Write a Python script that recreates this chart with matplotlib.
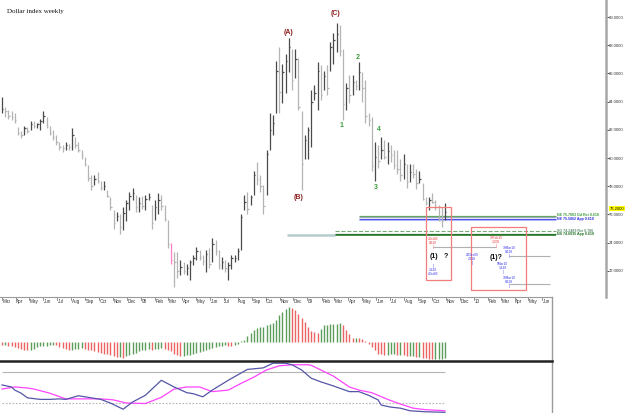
import matplotlib
matplotlib.use("Agg")
import matplotlib.pyplot as plt
import matplotlib.dates as mdates
import matplotlib.transforms as mtransforms
from matplotlib.patches import Rectangle
import pandas as pd

plt.rcParams['font.family'] = ['Liberation Sans', 'DejaVu Sans']

# ---------------- data ----------------
title = "Dollar index weekly"
first_week = "2007-03-02"

highs = [84.3,83.6,83.4,83.3,83.2,82.2,81.9,82.3,82.2,82.6,
         82.6,82.5,82.8,83.3,82.9,82.3,82.0,81.6,81.1,80.9,
         81.1,81.0,82.1,81.5,81.1,80.6,80.1,79.5,78.8,78.8,
         79.0,78.4,78.4,77.7,77.2,76.3,76.2,76.0,76.5,77.0,
         77.6,77.9,77.4,77.2,77.3,77.4,77.5,76.7,77.0,77.5,
         77.4,76.7,75.6,74.0,73.3,73.3,72.8,72.6,72.5,72.8,
         73.1,73.7,73.5,73.1,73.5,73.6,74.3,74.2,73.5,73.0,
         72.8,72.6,73.1,73.1,73.6,76.0,77.4,77.6,77.4,79.1,
         79.7,78.8,78.1,80.6,83.2,83.05,86.9,87.9,86.7,87.4,
         88.5,87.7,87.7,87.1,83.3,81.6,82.2,84.8,85.2,86.8,
         86.6,86.2,86.6,88.2,88.9,89.6,89.4,87.7,85.3,85.9,
         85.9,85.5,86.8,86.1,85.5,83.2,82.9,81.1,80.9,81.5,
         81.3,81.1,80.9,80.6,80.6,79.9,80.3,79.6,79.6,79.6,
         79.2,79.1,78.2,77.2,77.2,77.5,77.0,76.7,76.5,76.8]

lows = [83.2,82.9,82.8,82.7,82.5,81.6,81.4,81.6,81.8,82.0,
        82.1,82.1,82.0,82.5,82.1,81.6,81.3,80.9,80.6,80.4,
        80.6,80.6,80.6,80.7,80.4,79.9,79.4,78.4,77.7,78.1,
        78.2,77.7,77.7,77.2,76.3,75.0,75.5,74.6,74.9,75.5,
        76.3,77.0,76.2,76.2,76.4,76.3,77.0,75.0,75.6,76.0,
        76.3,75.5,73.6,72.5,70.85,71.5,71.7,71.8,71.7,71.35,
        72.4,72.8,72.8,72.4,71.9,72.2,72.6,73.1,72.1,72.1,
        71.9,71.35,72.1,72.6,72.8,73.5,76.3,76.0,76.7,77.4,
        78.1,77.6,76.0,77.4,80.6,81.6,83.2,83.2,83.9,84.6,
        86.1,84.8,85.7,83.4,77.7,79.9,79.9,80.8,84.1,83.4,
        84.1,84.8,84.5,86.2,86.7,87.5,87.2,82.7,83.4,83.9,
        84.5,84.8,84.8,84.0,82.5,82.3,79.1,78.4,79.3,79.9,
        79.9,79.6,79.7,79.2,78.9,78.4,78.5,77.9,78.3,78.6,
        77.8,78.2,77.0,76.7,76.3,76.8,76.3,75.5,75.1,75.6]

closes = [83.5,83.3,83.0,82.9,82.7,81.8,81.6,82.1,81.9,82.4,
          82.3,82.4,82.6,83.0,82.3,81.8,81.5,81.1,80.8,80.7,
          80.9,80.8,81.6,80.9,80.6,80.2,79.6,78.6,78.0,78.5,
          78.4,77.9,78.0,77.3,76.5,75.4,75.9,75.1,76.1,76.8,
          77.3,77.5,76.5,76.8,76.6,77.1,77.2,75.4,76.5,77.0,
          76.6,75.7,73.9,72.8,72.6,72.0,72.3,72.0,72.2,72.6,
          72.9,73.4,73.0,72.7,73.2,72.5,73.9,73.4,72.4,72.6,
          72.2,72.4,72.9,72.9,73.4,75.8,76.9,76.4,77.2,78.8,
          78.5,78.0,76.6,80.3,82.0,82.5,86.2,84.7,86.1,86.9,
          87.9,85.5,87.0,83.6,79.6,81.3,82.0,84.0,84.6,86.2,
          84.5,85.8,85.0,87.9,88.4,88.8,87.6,83.8,85.0,84.5,
          85.4,85.1,86.1,85.0,83.0,82.7,79.4,80.1,79.8,80.6,
          80.1,80.5,80.2,79.5,79.2,78.8,79.6,78.3,79.0,78.9,
          78.2,78.5,77.1,76.8,77.0,76.9,76.5,75.7,75.5,76.2]

macd_hist = [-3.3,-3.3,-4,-4.3,-5,-6,-6.7,-7.7,-8.3,-8.3,
             -6.7,-5,-4.3,-4,-4,-3.3,-3,-3.3,-5,-5.7,
             -6.7,-7.7,-7.7,-7,-6.7,-6,-6.7,-7.7,-8.3,-9,
             -10,-10.7,-11.7,-12.3,-12.7,-14,-15,-15,-15.7,-14.3,
             -13.3,-11.7,-10.7,-9.3,-8.3,-7.7,-6.7,-7.7,-7.3,-6.7,
             -6,-6.7,-7.7,-9,-11.7,-13.3,-14.3,-14.3,-13.3,-13.3,
             -12.3,-11,-10,-9,-7.7,-6.7,-5.7,-5,-4.3,-4.3,
             -3.3,-4,-4.3,-3.3,-1.7,0.7,2.3,5.7,9,12.3,
             14.3,15,15,16.7,17.7,19,21.7,26.7,30,33.3,
             35,34.3,31.7,28.3,24,20,15,11,10,9,
             13.3,16.7,17.3,17.7,17.7,18.3,19,16.7,11.7,8.3,
             4.3,4.3,4,3.3,0.7,-2.3,-5,-8.3,-11.7,-12.3,
             -13.3,-13.3,-11.7,-11.7,-12.7,-12.7,-13.3,-14.3,-14.3,-14.3,
             -15,-15,-15.7,-16,-16.7,-17.3,-17.3,-16.7,-16.7,-15.7]

stoch_k_weeks = [0,3,4,6,8,12,15,18,20,24,28,31,34,38,41,45,50,54,58,60,63,66,
                 71,77,82,85,89,91,94,97,100,104,109,112,115,118,119,122,125,128,133,139]
stoch_k_vals = [55,51,45,39,30,27,27,28,27,34,30,27,20,8,22,35,64,51,40,38,32,45,
                64,85,88,97,97,94,84,68,61,53,42,42,35,26,16,12,10,5,3,2]
stoch_d_weeks = [0,4,8,10,15,20,25,31,35,39,45,50,54,58,62,66,71,75,79,83,87,91,
                 96,97,100,104,109,112,116,121,125,129,133,139]
stoch_d_vals = [47,51,49,47,39,28,28,28,26,20,19,31,47,51,51,42,45,58,70,84,92,94,
                94,93,84,72,51,45,40,27,18,10,7,5]
stoch_levels = [80, 20]

price_ticks = [72, 74, 76, 78, 80, 82, 84, 86, 88, 90]
last_price = 76.2
highlight_week = 53

wave_labels = [("2008-11-21", 88.87, "(A)", "#8b1c1c"),
               ("2008-12-12", 77.23, "(B)", "#8b1c1c"),
               ("2009-03-03", 90.28, "(C)", "#8b1c1c"),
               ("2009-03-16", 82.34, "1", "#3a9a3a"),
               ("2009-04-21", 87.16, "2", "#3a9a3a"),
               ("2009-06-01", 77.94, "3", "#3a9a3a"),
               ("2009-06-07", 81.99, "4", "#3a9a3a")]

level_lines = [("2009-04-24", 75.91, "#5fa85f", 0.9, "-"),
               ("2009-04-24", 75.79, "#a0aab8", 0.8, "-"),
               ("2009-04-24", 75.67, "#4a4aee", 0.9, "-"),
               ("2009-04-24", 75.60, "#b0b8ff", 0.8, "-"),
               ("2009-03-02", 74.82, "#7aaa7a", 0.8, "--"),
               ("2009-03-02", 74.64, "#3d8f3d", 0.9, "-"),
               ("2009-03-02", 74.56, "#1f6f1f", 1.1, "-")]
level_end = "2010-07-01"
level_texts = [(75.93, "NE 75.7883 Gd Ret 0.618", "#3c9a3c"),
               (75.66, "NE 75.5862 App 0.618", "#2a2ae0"),
               (74.84, "SG 74.2489 Ret 0.786", "#5f8f6f"),
               (74.58, "NS 74.6035 App 0.618", "#1f6f1f")]

proj_lines = [("2009-10-04", "2010-02-19", 73.69),
              ("2010-03-19", "2010-06-18", 73.05),
              ("2010-03-19", "2010-06-18", 71.06)]

boxes = [("2009-09-18", "2009-11-13", 71.35, 76.52),
         ("2009-12-26", "2010-04-27", 70.64, 75.11)]

fib_notes = [("2009-10-04", 73.97, "4Oct09\n0.618\n|", "#ee3333"),
             ("2009-10-04", 72.06, "|\n1.618\n4Oct09", "#3333ee"),
             ("2010-02-19", 74.04, "19Feb10\n1.000\n|", "#ee3333"),
             ("2009-12-29", 72.84, "29Dec09\n2.618\n|", "#3333ee"),
             ("2010-03-20", 73.33, "19Mar10\n0.618\n|", "#3333ee"),
             ("2010-03-06", 72.20, "5Mar10\n1.618\n|", "#3333ee"),
             ("2010-03-20", 71.20, "19Mar10\n0.618\n|", "#3333ee")]

wave_q = [("2009-10-05", 72.98, "(1)"), ("2009-11-01", 72.98, "?"),
          ("2010-02-19", 72.91, "(1)?")]

# ---------------- layout ----------------
W, H = 625, 413
fig = plt.figure(figsize=(W / 100, H / 100), dpi=100)


def rect(x0, y0, x1, y1):
    return [x0 / W, 1 - y1 / H, (x1 - x0) / W, (y1 - y0) / H]


ax = fig.add_axes(rect(0, 0, 606, 297))
axh = fig.add_axes(rect(0, 297, 552, 361))
axs = fig.add_axes(rect(0, 361, 552, 413))

dates = pd.date_range(first_week, periods=len(closes), freq="7D")
xd = mdates.date2num(dates)
DPP = 7 / 3.187  # days per pixel
left = xd[0] - 2 * DPP
ax.set_xlim(left, left + 606 * DPP)
axh.set_xlim(left, left + 552 * DPP)
axs.set_xlim(left, left + 552 * DPP)


def dn(s):
    return mdates.date2num(pd.Timestamp(s))


# ---------------- main price panel ----------------
ax.set_ylim(70.142, 91.206)
cols = []
for i, c in enumerate(closes):
    if i == highlight_week:
        cols.append("#ff7fc8")
    elif i > 0 and c < closes[i - 1]:
        cols.append("#b4b4b4")
    else:
        cols.append("#4a4a4a")
ax.vlines(xd, lows, highs, colors=cols, linewidth=0.9, zorder=3)
ax.hlines(closes, xd, xd + 3.2, colors=cols, linewidth=0.9, zorder=3)

for d, p, col, lw, ls in level_lines:
    ax.hlines(p, dn(d), dn(level_end), colors=col, linewidth=lw, linestyles=ls, zorder=2)
ax.hlines(74.57, dn("2008-11-17"), dn("2009-03-02"), colors="#b7cbcb", linewidth=1.8, zorder=2)
for p, t, col in level_texts:
    ax.text(dn(level_end) + 1, p, t, fontsize=2.6, color=col, va="center", ha="left",
            fontweight="bold")

for d0, d1, p in proj_lines:
    ax.hlines(p, dn(d0), dn(d1), colors="#b0b0b0", linewidth=0.8, zorder=2)

for d0, d1, p0, p1 in boxes:
    ax.add_patch(Rectangle((dn(d0), p0), dn(d1) - dn(d0), p1 - p0, fill=False,
                           edgecolor="#f47c7c", linewidth=0.9, zorder=4))

for d, p, t, col in fib_notes:
    ax.text(dn(d), p, t, fontsize=2.3, color=col, ha="center", va="center",
            linespacing=0.95, zorder=5)

for d, p, t in wave_q:
    ax.text(dn(d), p, t, fontsize=5.0, color="#111111", ha="center", va="center",
            fontweight="bold", zorder=5)

for d, p, t, col in wave_labels:
    ax.text(dn(d), p, t, fontsize=5.0, color=col, ha="center", va="center",
            fontweight="bold", zorder=5)

fig.text(7 / W, 1 - 12 / H, title, fontsize=5.0, family=["Liberation Serif", "DejaVu Serif"],
         ha="left", va="center", color="#111111")

for s in ["top", "left", "bottom"]:
    ax.spines[s].set_visible(False)
ax.spines["right"].set_color("#a8a8a8")
ax.spines["right"].set_linewidth(1.8)
ax.set_xticks([])
ax.yaxis.tick_right()
ax.set_yticks(price_ticks)
ax.set_yticklabels([f"{v:.4f}" for v in price_ticks])
ax.tick_params(axis="y", which="major", direction="out", length=2.0, width=0.6,
               colors="#333333", labelsize=3.0, pad=0.3)
ax.annotate(f"{last_price:.4f}", xy=(1.0, last_price), xycoords=ax.get_yaxis_transform(),
            xytext=(2.6, 2.2), textcoords="offset points",
            fontsize=3.0, color="#111111", ha="left", va="center", zorder=6,
            bbox=dict(boxstyle="square,pad=0.12", facecolor="#ffff00", edgecolor="none"))

# ---------------- MACD histogram panel ----------------
axh.set_ylim(-19, 45)
hcols = []
for i, v in enumerate(macd_hist):
    if i > 0 and v >= macd_hist[i - 1]:
        hcols.append("#5a9e5a")
    else:
        hcols.append("#ec6363")
axh.vlines(xd, 0, macd_hist, colors=hcols, linewidth=1.0)
for s in ["left", "bottom"]:
    axh.spines[s].set_visible(False)
axh.spines["top"].set_color("#9a9a9a")
axh.spines["top"].set_linewidth(0.8)
axh.spines["right"].set_color("#9a9a9a")
axh.spines["right"].set_linewidth(1.0)
axh.set_xticks([])
axh.set_yticks([])

months = pd.date_range("2007-03-01", "2010-06-01", freq="MS")
btr = axh.get_xaxis_transform()
for m in months:
    xm = mdates.date2num(m)
    axh.plot([xm, xm], [1.0, 1.0 - 2.5 / 64], transform=btr, color="#666666",
             linewidth=0.5, clip_on=False)
    lab = m.strftime("%y") if m.month == 1 else m.strftime("%b")
    axh.text(xm + 0.6 * DPP, 1.0 - 4.5 / 64, lab, transform=btr, fontsize=3.3,
             color="#333333", ha="left", va="center")

# ---------------- Stochastic panel ----------------
axs.set_ylim(0.65, 101.3)
axs.hlines(stoch_levels[0], xd[0], xd[-1], colors="#b4b4b4", linewidth=0.8)
axs.hlines(stoch_levels[1], xd[0], xd[-1], colors="#b4b4b4", linewidth=0.8,
           linestyles=(0, (1.5, 1.5)))
axs.plot(xd[stoch_d_weeks], stoch_d_vals, color="#ff44ff", linewidth=0.9)
axs.plot(xd[stoch_k_weeks], stoch_k_vals, color="#5555a8", linewidth=0.9)
for s in ["left", "bottom"]:
    axs.spines[s].set_visible(False)
axs.spines["top"].set_color("#222222")
axs.spines["top"].set_linewidth(1.8)
axs.spines["right"].set_color("#9a9a9a")
axs.spines["right"].set_linewidth(1.0)
axs.set_xticks([])
axs.set_yticks([])

fig.savefig("out.png", dpi=100)
